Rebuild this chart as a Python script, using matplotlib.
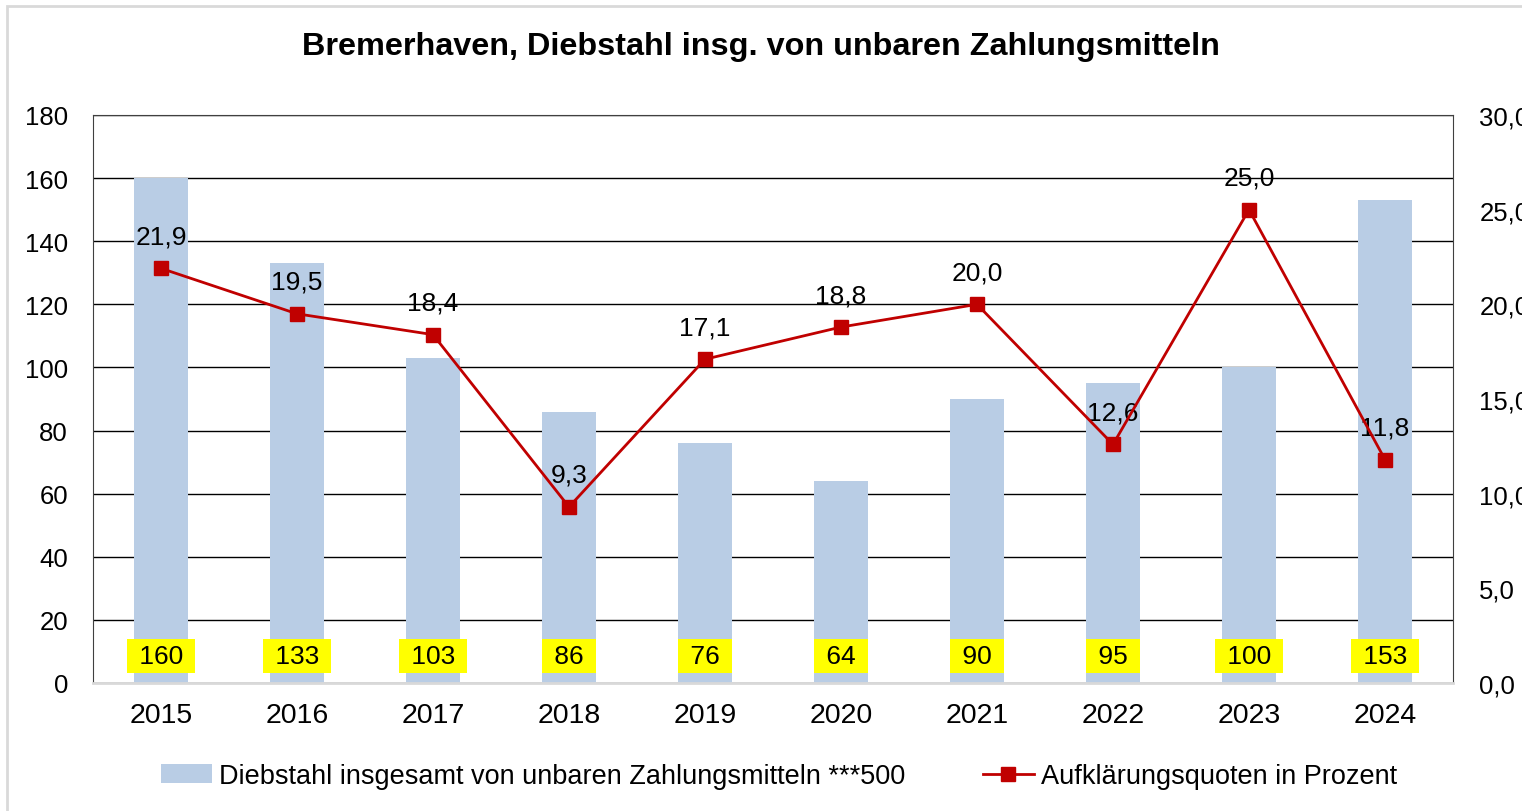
import matplotlib.pyplot as plt
from matplotlib.patches import Rectangle, Patch
from matplotlib.lines import Line2D

plt.rcParams['font.family'] = ['Liberation Sans', 'DejaVu Sans']

years = ['2015', '2016', '2017', '2018', '2019', '2020', '2021', '2022', '2023', '2024']
diebstahl = [160, 133, 103, 86, 76, 64, 90, 95, 100, 153]
quote = [21.9, 19.5, 18.4, 9.3, 17.1, 18.8, 20.0, 12.6, 25.0, 11.8]

bar_label = 'Diebstahl insgesamt von unbaren Zahlungsmitteln ***500'
line_label = 'Aufklärungsquoten in Prozent'
title = 'Bremerhaven, Diebstahl insg. von unbaren Zahlungsmitteln'

BAR_COLOR = '#B9CDE5'
LINE_COLOR = '#C00000'


def de(v):
    return f'{v:.1f}'.replace('.', ',')


fig = plt.figure(figsize=(15.22, 8.12), dpi=100)
ax = fig.add_axes([93 / 1522, 1 - 684 / 812, 1360 / 1522, 568 / 812])

# light frame around the chart (runs off the right and bottom edge)
fig.patches.append(Rectangle((7 / 1522, -0.05), 1.1, 1 - 7 / 812 + 0.05,
                             transform=fig.transFigure, fill=False,
                             edgecolor='#D9D9D9', linewidth=2))

x = list(range(len(years)))
ax.bar(x, diebstahl, width=0.4, color=BAR_COLOR, zorder=2)
ax.set_xlim(-0.5, len(years) - 0.5)
ax.set_ylim(0, 180)
ax.set_yticks(range(0, 181, 20))
ax.set_xticks(x)
ax.set_xticklabels(years)
ax.yaxis.grid(True, color='black', linewidth=1)
ax.set_axisbelow(True)
ax.tick_params(axis='y', length=0, pad=18, labelsize=18.5)
ax.tick_params(axis='x', length=0, pad=14, labelsize=20.5)
for s in ['left', 'right', 'top']:
    ax.spines[s].set_color('#404040')
ax.spines['bottom'].set_color('#D9D9D9')
ax.spines['bottom'].set_linewidth(2)

# yellow value boxes at the foot of each bar
for xi, v in zip(x, diebstahl):
    ax.text(xi, 8.5, f' {v} ', ha='center', va='center', fontsize=19, zorder=5,
            bbox=dict(boxstyle='square,pad=0.18', facecolor='#FFFF00', edgecolor='none'))

ax2 = ax.twinx()
ax2.set_ylim(0, 30)
ax2.set_yticks(range(0, 31, 5))
ax2.set_yticklabels([de(v) for v in range(0, 31, 5)])
ax2.tick_params(axis='y', length=0, pad=19, labelsize=18.5)
for s in ['left', 'right', 'top', 'bottom']:
    ax2.spines[s].set_visible(False)
ax2.plot(x, quote, color=LINE_COLOR, linewidth=2, marker='s', markersize=10, zorder=4)
for xi, v in zip(x, quote):
    ax2.annotate(de(v), (xi, v), xytext=(0, 23), textcoords='offset points',
                 ha='center', va='center', fontsize=19)

fig.text(0.5, 1 - 47 / 812, title, ha='center', va='center', fontsize=23.3, fontweight='bold')

handles = [Patch(facecolor=BAR_COLOR, edgecolor='none'),
           Line2D([], [], color=LINE_COLOR, linewidth=2, marker='s', markersize=10)]
fig.legend(handles, [bar_label, line_label], loc='center', ncol=2,
           bbox_to_anchor=(779 / 1522, 1 - 777 / 812), frameon=False,
           fontsize=19.5, columnspacing=2.85, handlelength=1.9, handletextpad=0.25)

fig.savefig('out.png', dpi=100)
